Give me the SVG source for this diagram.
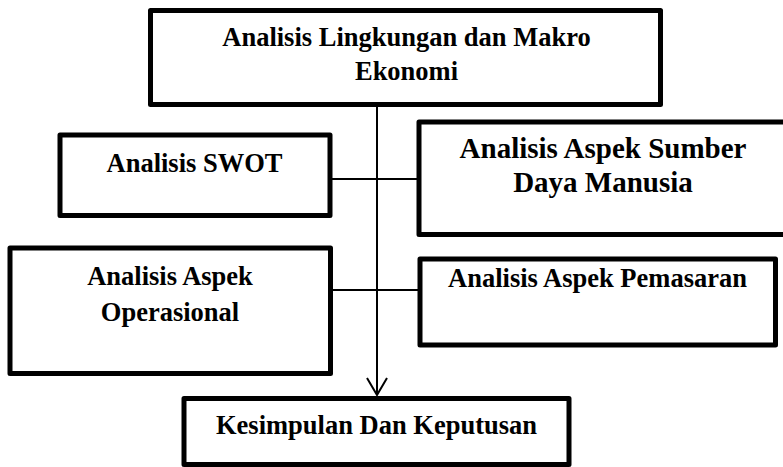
<svg xmlns="http://www.w3.org/2000/svg" width="783" height="467" viewBox="0 0 783 467">
  <style>
    .box { fill: #ffffff; stroke: #000000; stroke-width: 5; stroke-linejoin: round; }
    .lbl { font-family: "Liberation Serif", "Times New Roman", serif; font-weight: bold; font-size: 26.5px; fill: #000000; text-anchor: middle; }
    .big { font-size: 29px; }
    .wire { fill: none; stroke: #000000; stroke-width: 2; }
  </style>
  <rect width="783" height="467" fill="#ffffff"/>

  <!-- connectors: shared spine with side branches and an open arrowhead -->
  <g id="connectors">
    <line class="wire" x1="330" y1="179" x2="419" y2="179"/>
    <line class="wire" x1="330" y1="290" x2="420" y2="290"/>
    <path class="wire" d="M377,104.5 L377,395"/>
    <path class="wire" d="M367,378 L377,395 L387,378"/>
  </g>

  <g id="macro">
    <rect class="box" x="150.5" y="10.5" width="510" height="94"/>
    <text class="lbl" x="406.5" y="46">Analisis Lingkungan dan Makro</text>
    <text class="lbl" x="406.5" y="80">Ekonomi</text>
  </g>

  <g id="swot">
    <rect class="box" x="60" y="135" width="270" height="80.5"/>
    <text class="lbl" x="194.5" y="171.5">Analisis SWOT</text>
  </g>

  <g id="sdm">
    <rect class="box" x="419" y="122" width="370" height="112.5"/>
    <text class="lbl big" x="603" y="158">Analisis Aspek Sumber</text>
    <text class="lbl big" x="603" y="192">Daya Manusia</text>
  </g>

  <g id="operasional">
    <rect class="box" x="10" y="248" width="320.5" height="125.5"/>
    <text class="lbl" x="170" y="285">Analisis Aspek</text>
    <text class="lbl" x="170" y="321">Operasional</text>
  </g>

  <g id="pemasaran">
    <rect class="box" x="420" y="259" width="355.5" height="86"/>
    <text class="lbl" x="597.5" y="287">Analisis Aspek Pemasaran</text>
  </g>

  <g id="kesimpulan">
    <rect class="box" x="184" y="398.5" width="385" height="66"/>
    <text class="lbl" x="376.5" y="433.5">Kesimpulan Dan Keputusan</text>
  </g>
</svg>
